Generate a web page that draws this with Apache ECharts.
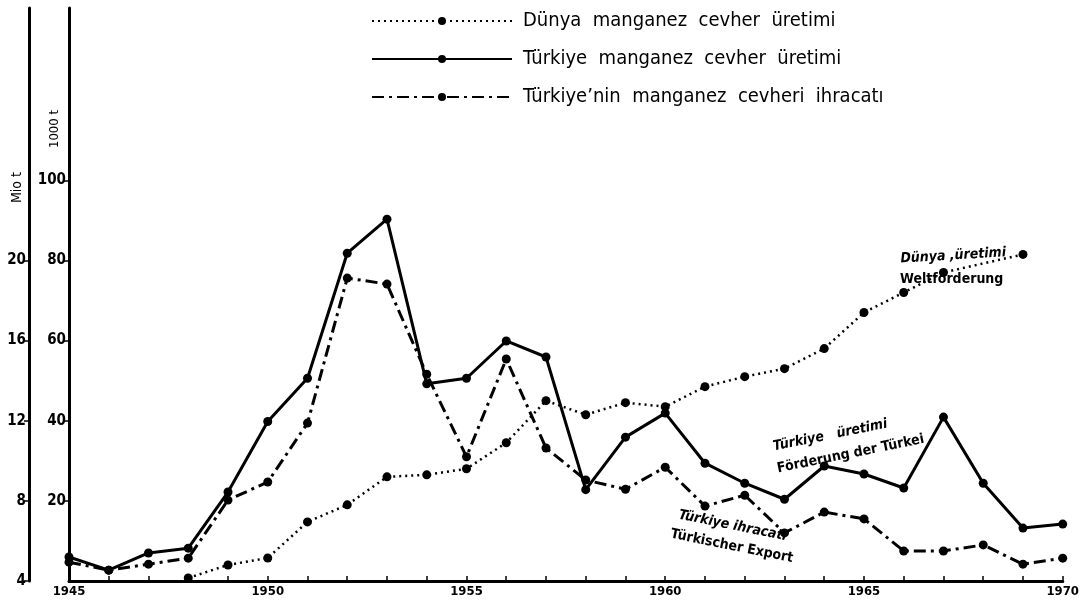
<!DOCTYPE html>
<html lang="tr">
<head>
    <meta charset="UTF-8">
    <title>Manganez cevheri</title>
    <script src="https://cdn.jsdelivr.net/npm/echarts@6/dist/echarts.min.js"></script>
    <style>
        * { margin: 0; padding: 0; }
        body { background: #fff; }
        #chart { width: 1082px; height: 606px; }
    </style>
</head>
<body>
<div id="chart"></div>
<script>
    // yillar
    var years = [];
    for (var y = 1945; y <= 1970; y++) years.push(String(y));

    // Dünya üretimi (Mio t), 1945-47 yok, 1968 yazinin altinda
    var dunya = [null, null, null, 4.15, 4.8, 5.15, 6.95, 7.8, 9.2, 9.3, 9.6, 10.9, 13.0, 12.3, 12.9, 12.7,
        13.7, 14.2, 14.6, 15.6, 17.4, 18.4, 19.4, null, 20.3, null];
    // Türkiye üretimi (1000 t)
    var turkiye = [6.0, 2.7, 7.0, 8.2, 22.2, 39.8, 50.6, 81.8, 90.3, 49.2, 50.6, 59.9, 55.9, 22.8, 35.9, 41.9,
        29.4, 24.4, 20.4, 28.7, 26.7, 23.2, 40.9, 24.4, 13.2, 14.2];
    // Türkiye ihracati (1000 t)
    var ihracat = [4.7, 2.7, 4.2, 5.7, 20.2, 24.7, 39.4, 75.6, 74.1, 51.6, 31.0, 55.4, 33.2, 25.2, 22.9, 28.4,
        18.7, 21.4, 12.0, 17.2, 15.5, 7.5, 7.5, 9.0, 4.2, 5.7];

    var innerTicks = [20, 40, 60, 80, 100];
    var outerTicks = [4, 8, 12, 16, 20];

    var font = 'DejaVu Sans Condensed';

    var chart = echarts.init(document.getElementById('chart'));
    var option = {
        animation: false,
        textStyle: { fontFamily: font, color: '#000' },
        grid: { left: 69, right: 18, top: 8, bottom: 25 },
        legend: {
            orient: 'vertical',
            left: 366,
            top: 6,
            itemWidth: 140,
            itemHeight: 10,
            itemGap: 18,
            textStyle: { fontSize: 20, color: '#000', fontFamily: font, padding: [0, 0, 0, 6] },
            data: ['Dünya  manganez  cevher  üretimi', 'Türkiye  manganez  cevher  üretimi', 'Türkiye’nin  manganez  cevheri  ihracatı']
        },
        xAxis: {
            type: 'category',
            data: years,
            boundaryGap: false,
            axisLine: { lineStyle: { color: '#000', width: 3 } },
            axisTick: { inside: true, interval: 0, length: 5, lineStyle: { color: '#000', width: 1.5 } },
            axisLabel: { interval: 4, color: '#000', fontSize: 13, fontWeight: 'bold', margin: 4 },
            splitLine: { show: false }
        },
        yAxis: [
            {
                type: 'value',
                min: 0,
                max: 143,
                interval: 20,
                axisLine: { show: true, lineStyle: { color: '#000', width: 3 } },
                axisTick: { show: true, length: 5, customValues: innerTicks, lineStyle: { color: '#000', width: 1.5 } },
                axisLabel: { color: '#000', fontSize: 15, fontWeight: 'bold', margin: 3, customValues: innerTicks },
                splitLine: { show: false }
            },
            {
                type: 'value',
                position: 'left',
                offset: 40,
                min: 4,
                max: 4 + 143 / 5,
                interval: 4,
                axisLine: { show: true, lineStyle: { color: '#000', width: 3 } },
                axisTick: { show: true, length: 5, customValues: outerTicks, lineStyle: { color: '#000', width: 1.5 } },
                axisLabel: { color: '#000', fontSize: 15, fontWeight: 'bold', margin: 3, customValues: outerTicks },
                splitLine: { show: false }
            }
        ],
        series: [
            {
                name: 'Dünya  manganez  cevher  üretimi',
                type: 'line',
                yAxisIndex: 1,
                data: dunya,
                connectNulls: true,
                symbol: 'circle',
                symbolSize: 9,
                itemStyle: { color: '#000' },
                lineStyle: { color: '#000', width: 2.5, type: [2, 4] }
            },
            {
                name: 'Türkiye  manganez  cevher  üretimi',
                type: 'line',
                yAxisIndex: 0,
                data: turkiye,
                symbol: 'circle',
                symbolSize: 9,
                itemStyle: { color: '#000' },
                lineStyle: { color: '#000', width: 3 }
            },
            {
                name: 'Türkiye’nin  manganez  cevheri  ihracatı',
                type: 'line',
                yAxisIndex: 0,
                data: ihracat,
                symbol: 'circle',
                symbolSize: 9,
                itemStyle: { color: '#000' },
                lineStyle: { color: '#000', width: 3, type: [12, 5, 3, 5] }
            }
        ],
        graphic: [
            { type: 'text', left: 48, top: 110, rotation: Math.PI / 2,
              style: { text: '1000 t', font: '13px ' + font, fill: '#000' } },
            { type: 'text', left: 10, top: 172, rotation: Math.PI / 2,
              style: { text: 'Mio t', font: '14px ' + font, fill: '#000' } },
            { type: 'text', x: 900, y: 252, rotation: 0.06,
              style: { text: 'Dünya ,üretimi', font: 'italic bold 14px ' + font, fill: '#000' } },
            { type: 'text', x: 900, y: 272,
              style: { text: 'Weltförderung', font: 'bold 14px ' + font, fill: '#000' } },
            { type: 'text', x: 772, y: 440, rotation: 0.2,
              style: { text: 'Türkiye   üretimi', font: 'italic bold 14px ' + font, fill: '#000' } },
            { type: 'text', x: 776, y: 462, rotation: 0.2,
              style: { text: 'Förderung der Türkei', font: 'bold 14px ' + font, fill: '#000' } },
            { type: 'text', x: 680, y: 508, rotation: -0.2,
              style: { text: 'Türkiye ihracatı', font: 'italic bold 14px ' + font, fill: '#000' } },
            { type: 'text', x: 672, y: 527, rotation: -0.2,
              style: { text: 'Türkischer Export', font: 'bold 14px ' + font, fill: '#000' } }
        ]
    };
    chart.setOption(option);
</script>
</body>
</html>
